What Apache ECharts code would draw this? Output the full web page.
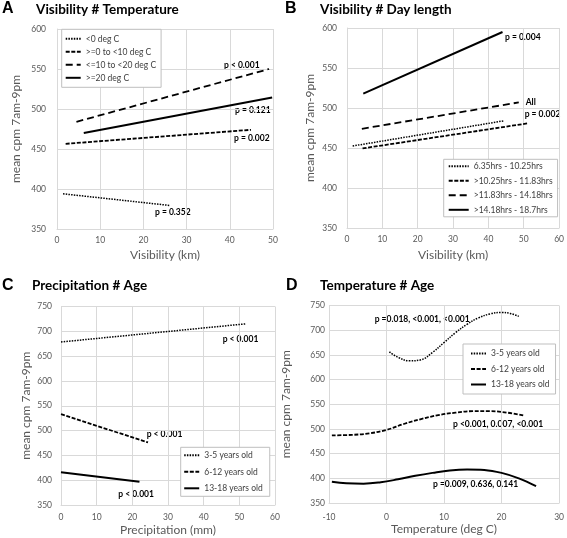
<!DOCTYPE html>
<html><head><meta charset="utf-8">
<script src="https://cdn.jsdelivr.net/npm/echarts@6/dist/echarts.min.js"></script>
<style>html,body{margin:0;padding:0;background:#fff}#c{width:567px;height:538px}</style>
</head><body><div id="c"></div>
<script>
// ---------- Panel A: Visibility # Temperature ----------
const namesA = ['<0 deg C', '>=0 to <10 deg C', '<=10 to <20 deg C', '>=20 deg C'];
const A_lt0   = [[1.4, 394], [26, 379.5]];
const A_0to10 = [[2, 456.5], [44.9, 474]];
const A_10to20 = [[4.5, 484], [49.1, 550]];
const A_ge20  = [[6.2, 470], [49.8, 514.5]];
const xRangeA = [0, 50, 10];
const yRangeA = [350, 600, 50];

// ---------- Panel B: Visibility # Day length ----------
const namesB = ['6.35hrs - 10.25hrs', '>10.25hrs - 11.83hrs', '>11.83hrs - 14.18hrs', '>14.18hrs - 18.7hrs'];
const B_1 = [[1.6, 452.5], [44.4, 484]];
const B_2 = [[4.4, 449.5], [51.4, 481]];
const B_3 = [[4.2, 474], [48.6, 507]];
const B_4 = [[4.6, 518], [44, 595]];
const xRangeB = [0, 60, 10];
const yRangeB = [350, 600, 50];

// ---------- Panel C: Precipitation # Age ----------
const namesAge = ['3-5 years old', '6-12 years old', '13-18 years old'];
const C_35   = [[0, 678.5], [51.7, 715]];
const C_612  = [[0, 533], [24.4, 476]];
const C_1318 = [[0, 416], [22, 397]];
const xRangeC = [0, 60, 10];
const yRangeC = [350, 750, 50];

// ---------- Panel D: Temperature # Age ----------
const D_35 = [[0.5, 656], [2, 645], [4, 638], [6, 640], [8, 655], [10, 675], [12, 695], [14, 712], [16, 725], [18, 733], [20, 736], [21.5, 734], [23, 728]];
const D_612 = [[-9.5, 487], [-6, 488], [-3, 491], [0, 498], [3, 510], [6, 520], [9, 528], [12, 533], [15, 536], [18, 536], [21, 533], [24, 527]];
const D_1318 = [[-9.5, 393], [-7, 390], [-4, 389], [-1, 392], [2, 398], [5, 405], [8, 411], [11, 416], [14, 418], [17, 417], [20, 411], [23, 400], [26, 384]];
const xRangeD = [-10, 30, 10];
const yRangeD = [350, 750, 50];

const yName = 'mean cpm 7am-9pm';
const xNames = ['Visibility (km)', 'Visibility (km)', 'Precipitation (mm)', 'Temperature (deg C)'];

// ---------- styles ----------
const FONT = 'Lato';
const GREY = '#595959';
const GRID = '#d9d9d9';
const styleDot = {color: '#000', width: 1.5, type: [1.5, 1.2]};
const styleDash = {color: '#000', width: 1.8, type: [4, 1.6]};
const styleLong = {color: '#000', width: 1.8, type: [7, 4]};
const styleSolid = {color: '#000', width: 2, type: 'solid'};

const chart = echarts.init(document.getElementById('c'), null, {renderer: 'canvas'});

const grids = [
  {left: 57, top: 29, width: 216, height: 200},
  {left: 347, top: 28, width: 216, height: 200},
  {left: 61, top: 306.5, width: 214, height: 198.5},
  {left: 329, top: 305.5, width: 231, height: 197.5}
];

function xAxis(i, r, gap, margin) {
  return {
    type: 'value', gridIndex: i, min: r[0], max: r[1], interval: r[2],
    name: xNames[i], nameLocation: 'middle', nameGap: gap, nameMoveOverlap: false,
    nameTextStyle: {color: GREY, fontSize: 12, fontFamily: FONT},
    axisLine: {show: true, onZero: false, lineStyle: {color: GRID, width: 1}},
    axisTick: {show: false},
    axisLabel: {color: GREY, fontSize: 8.5, fontFamily: FONT, margin: margin},
    splitLine: {show: true, lineStyle: {color: GRID, width: 1}}
  };
}
function yAxis(i, r, name, gap, margin) {
  return {
    type: 'value', gridIndex: i, min: r[0], max: r[1], interval: r[2], position: 'left',
    name: name, nameLocation: 'middle', nameGap: gap, nameRotate: 90, nameMoveOverlap: false,
    nameTextStyle: {color: GREY, fontSize: 12, fontFamily: FONT},
    axisLine: {show: true, onZero: true, lineStyle: {color: GRID, width: 1}},
    axisTick: {show: false},
    axisLabel: {color: GREY, fontSize: 8.5, fontFamily: FONT, margin: margin},
    splitLine: {show: true, lineStyle: {color: GRID, width: 1}}
  };
}

function line(name, data, ls, gi, smooth) {
  return {
    type: 'line', name: name, data: data, xAxisIndex: gi, yAxisIndex: gi,
    showSymbol: false, symbol: 'none', legendIcon: 'none', smooth: smooth ? 0.4 : false,
    lineStyle: ls, itemStyle: {color: '#000'}, silent: true, animation: false
  };
}

function legend(names, left, top, iw, gap, pad) {
  return {
    data: names, orient: 'vertical', left: left, top: top,
    itemWidth: iw, itemHeight: 10, itemGap: gap, padding: pad,
    borderColor: '#bfbfbf', borderWidth: 1, backgroundColor: '#fff',
    itemStyle: {opacity: 0},
    lineStyle: {opacity: 1},
    textStyle: {color: '#404040', fontSize: 8.5, fontFamily: FONT},
    selectedMode: false
  };
}

function txt(s, x, y, size, weight, family, color) {
  return {
    type: 'text', x: x, y: y, silent: true,
    style: {text: s, fill: color || '#000', font: (weight || 'bold') + ' ' + (size || 8.5) + 'px ' + (family || FONT), verticalAlign: 'middle'}
  };
}

const option = {
  backgroundColor: '#fff',
  animation: false,
  grid: grids,
  xAxis: [
    xAxis(0, xRangeA, 20, 7),
    xAxis(1, xRangeB, 21, 7),
    xAxis(2, xRangeC, 19, 8),
    xAxis(3, xRangeD, 20, 10)
  ],
  yAxis: [
    yAxis(0, yRangeA, yName, 35, 11),
    yAxis(1, yRangeB, yName, 31, 10),
    yAxis(2, yRangeC, yName, 29, 9),
    yAxis(3, yRangeD, yName, 37, 4)
  ],
  legend: [
    legend(namesA, 61.7, 29.3, 15, 4, [5, 5, 5, 3]),
    legend(namesB, 443.7, 159.3, 20, 5.5, [2.5, 5, 2.5, 4]),
    legend(namesAge, 180.7, 447.3, 15, 7.5, [3.5, 7, 3.5, 2.5]),
    legend(namesAge, 463, 344, 15, 6.5, [5, 6, 5, 7])
  ],
  series: [
    line(namesA[0], A_lt0, styleDot, 0),
    line(namesA[1], A_0to10, styleDash, 0),
    line(namesA[2], A_10to20, styleLong, 0),
    line(namesA[3], A_ge20, styleSolid, 0),
    line(namesB[0], B_1, styleDot, 1),
    line(namesB[1], B_2, styleDash, 1),
    line(namesB[2], B_3, styleLong, 1),
    line(namesB[3], B_4, styleSolid, 1),
    line(namesAge[0], C_35, styleDot, 2),
    line(namesAge[1], C_612, styleDash, 2),
    line(namesAge[2], C_1318, styleSolid, 2),
    line(namesAge[0], D_35, styleDot, 3, true),
    line(namesAge[1], D_612, styleDash, 3, true),
    line(namesAge[2], D_1318, styleSolid, 3, true)
  ],
  graphic: [
    txt('A', 2, 9, 16, 'bold', 'Liberation Sans'),
    txt('Visibility # Temperature', 36, 10, 13.5, 'bold'),
    txt('B', 285, 9, 16, 'bold', 'Liberation Sans'),
    txt('Visibility # Day length', 320, 10, 13.5, 'bold'),
    txt('C', 2, 286, 16, 'bold', 'Liberation Sans'),
    txt('Precipitation # Age', 32, 286, 13.5, 'bold'),
    txt('D', 286, 286, 16, 'bold', 'Liberation Sans'),
    txt('Temperature # Age', 320, 286, 13.5, 'bold'),
    txt('p < 0.001', 224, 65),
    txt('p = 0.121', 235, 110.5),
    txt('p = 0.002', 234, 138.5),
    txt('p = 0.352', 155, 212.7),
    txt('p = 0.004', 505, 37.3),
    txt('All', 525.7, 102.5),
    txt('p = 0.002', 524.7, 114.5),
    txt('p < 0.001', 222.7, 339.7),
    txt('p < 0.001', 146.7, 434.7),
    txt('p < 0.001', 118.3, 494),
    txt('p =0.018, <0.001, <0.001', 374.7, 319),
    txt('p <0.001, 0.007, <0.001', 453, 424.7),
    txt('p =0.009, 0.636, 0.141', 433, 484)
  ]
};
chart.setOption(option);
</script>
</body></html>
